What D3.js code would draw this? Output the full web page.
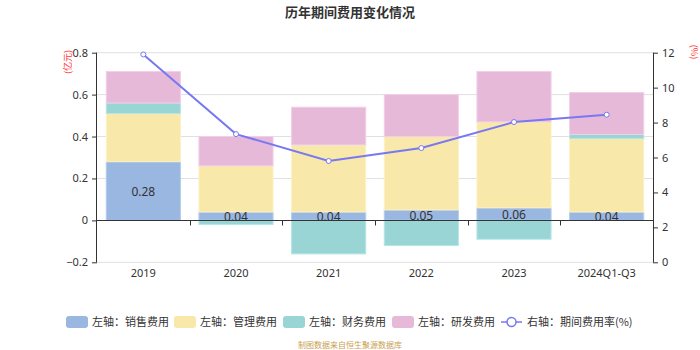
<!DOCTYPE html>
<html><head><meta charset="utf-8">
<script src="https://cdn.jsdelivr.net/npm/d3@7/dist/d3.min.js"></script>
<style>body{margin:0;background:#fff}svg{display:block;font-family:"Noto Sans CJK SC","Noto Sans",sans-serif}</style>
</head><body><svg id="c" width="700" height="350"></svg>
<script>
const categories = ["2019","2020","2021","2022","2023","2024Q1-Q3"];
const salesExp = [0.28,0.04,0.04,0.05,0.06,0.04];
const adminExp = [0.23,0.22,0.32,0.35,0.41,0.35];
const financeExp = [0.05,-0.02,-0.16,-0.12,-0.09,0.02];
const rdExp = [0.15,0.14,0.18,0.20,0.24,0.20];
const expenseRate = [11.9,7.34,5.8,6.54,8.03,8.45];
const leftTicks = [-0.2,0,0.2,0.4,0.6,0.8];
const rightTicks = [0,2,4,6,8,10,12];
const seriesNames = ["左轴：销售费用","左轴：管理费用","左轴：财务费用","左轴：研发费用"];
const lineName = "右轴：期间费用率(%)";

const colors = ["#9ab7e2","#f8e8a9","#99d5d5","#e7b9d8"];
const strokes = ["#b3cbee","#fdf2c4","#b6e6e6","#f2cfe7"];
const lineColor = "#7878f2";

const svg = d3.select("#c");
const L = 97, R = 653, T = 52.7, B = 262.3;
const x = d3.scaleBand().domain(categories).range([L,R]);
const y = d3.scaleLinear().domain([-0.2,0.8]).range([B,T]);
const y2 = d3.scaleLinear().domain([0,12]).range([B,T]);
const barW = x.bandwidth()*0.8;

// title
svg.append("text").attr("x",350).attr("y",17).attr("text-anchor","middle")
  .attr("font-size",13).attr("font-weight","bold").attr("fill","#333").text("历年期间费用变化情况");

// grid
svg.append("g").selectAll("line").data(leftTicks.filter(d=>d!==0)).join("line")
  .attr("x1",L).attr("x2",R).attr("y1",d=>y(d)).attr("y2",d=>y(d))
  .attr("stroke","#e0e0e0").attr("stroke-width",1);

// bars
const data = [salesExp,adminExp,financeExp,rdExp];
const pos = categories.map(()=>0), neg = categories.map(()=>0);
data.forEach((arr,si)=>{
  const g = svg.append("g");
  arr.forEach((v,i)=>{
    let y0,y1;
    if(v>=0){y0=pos[i];y1=pos[i]+v;pos[i]=y1;}else{y0=neg[i];y1=neg[i]+v;neg[i]=y1;}
    const top = y(Math.max(y0,y1)), bot = y(Math.min(y0,y1));
    g.append("rect").attr("x",x(categories[i])+(x.bandwidth()-barW)/2).attr("y",top)
      .attr("width",barW).attr("height",bot-top)
      .attr("fill",colors[si]).attr("stroke",strokes[si]).attr("stroke-width",1);
  });
});

// left axis
const la = svg.append("g").attr("transform",`translate(${L},0)`)
  .call(d3.axisLeft(y).tickValues(leftTicks).tickSize(5).tickPadding(4).tickFormat(d=>d===0?"0":d3.format(".1f")(d)));
la.select(".domain").attr("stroke","#333").attr("d",`M-0.5,${T}V${B}`);
la.selectAll(".tick line").attr("stroke","#333");
la.selectAll("text").attr("font-size",11).attr("fill","#333").attr("font-family","Noto Sans, sans-serif");

// right axis
const ra = svg.append("g").attr("transform",`translate(${R},0)`)
  .call(d3.axisRight(y2).tickValues(rightTicks).tickSize(5).tickPadding(4));
ra.select(".domain").attr("stroke","#333").attr("d",`M0.5,${T}V${B}`);
ra.selectAll(".tick line").attr("stroke","#333");
ra.selectAll("text").attr("font-size",11).attr("fill","#333").attr("font-family","Noto Sans, sans-serif");

// x axis at zero
const z = Math.round(y(0))+0.5;
svg.append("line").attr("x1",L).attr("x2",R).attr("y1",z).attr("y2",z).attr("stroke","#333");
svg.append("g").selectAll("line").data(categories.slice(1)).join("line")
  .attr("x1",d=>Math.round(x(d))+0.5).attr("x2",d=>Math.round(x(d))+0.5).attr("y1",z).attr("y2",z+5).attr("stroke","#333");
svg.append("g").selectAll("text").data(categories).join("text")
  .attr("x",d=>x(d)+x.bandwidth()/2).attr("y",277).attr("text-anchor","middle")
  .attr("font-size",11).attr("fill","#333").attr("font-family","Noto Sans, sans-serif").text(d=>d);

// bar labels
svg.append("g").selectAll("text").data(salesExp).join("text")
  .attr("x",(d,i)=>x(categories[i])+x.bandwidth()/2).attr("y",d=>(y(0)+y(d))/2+4.5)
  .attr("text-anchor","middle").attr("font-size",12).attr("fill","#333")
  .attr("font-family","Noto Sans, sans-serif").text(d=>d3.format(".2f")(d));

// line
const pts = expenseRate.map((v,i)=>[x(categories[i])+x.bandwidth()/2,y2(v)]);
svg.append("path").attr("d",d3.line()(pts)).attr("fill","none").attr("stroke",lineColor).attr("stroke-width",2);
svg.append("g").selectAll("circle").data(pts).join("circle")
  .attr("cx",d=>d[0]).attr("cy",d=>d[1]).attr("r",2.5).attr("fill","#fff").attr("stroke",lineColor).attr("stroke-width",1);

// unit labels
svg.append("text").attr("transform","translate(71,62) rotate(-90)").attr("text-anchor","middle")
  .attr("font-size",9).attr("fill","#f33").text("(亿元)");
svg.append("text").attr("transform","translate(691,52) rotate(90)").attr("text-anchor","middle")
  .attr("font-size",9).attr("fill","#f33").text("(%)");

// legend
const legX = [66,174,283,392];
seriesNames.forEach((n,i)=>{
  svg.append("rect").attr("x",legX[i]).attr("y",316).attr("width",22).attr("height",12).attr("rx",3)
    .attr("fill",colors[i]);
  svg.append("text").attr("x",legX[i]+26).attr("y",326).attr("font-size",11).attr("fill","#333").text(n);
});
svg.append("line").attr("x1",501).attr("x2",522).attr("y1",322).attr("y2",322).attr("stroke",lineColor).attr("stroke-width",1.5);
svg.append("circle").attr("cx",511.5).attr("cy",322).attr("r",4.5).attr("fill","#fff").attr("stroke",lineColor).attr("stroke-width",1.5);
svg.append("text").attr("x",527).attr("y",326).attr("font-size",11).attr("fill","#333").text(lineName);

// source
svg.append("text").attr("x",350).attr("y",348).attr("text-anchor","middle").attr("font-size",8)
  .attr("fill","#c9a050").text("制图数据来自恒生聚源数据库");
</script></body></html>
